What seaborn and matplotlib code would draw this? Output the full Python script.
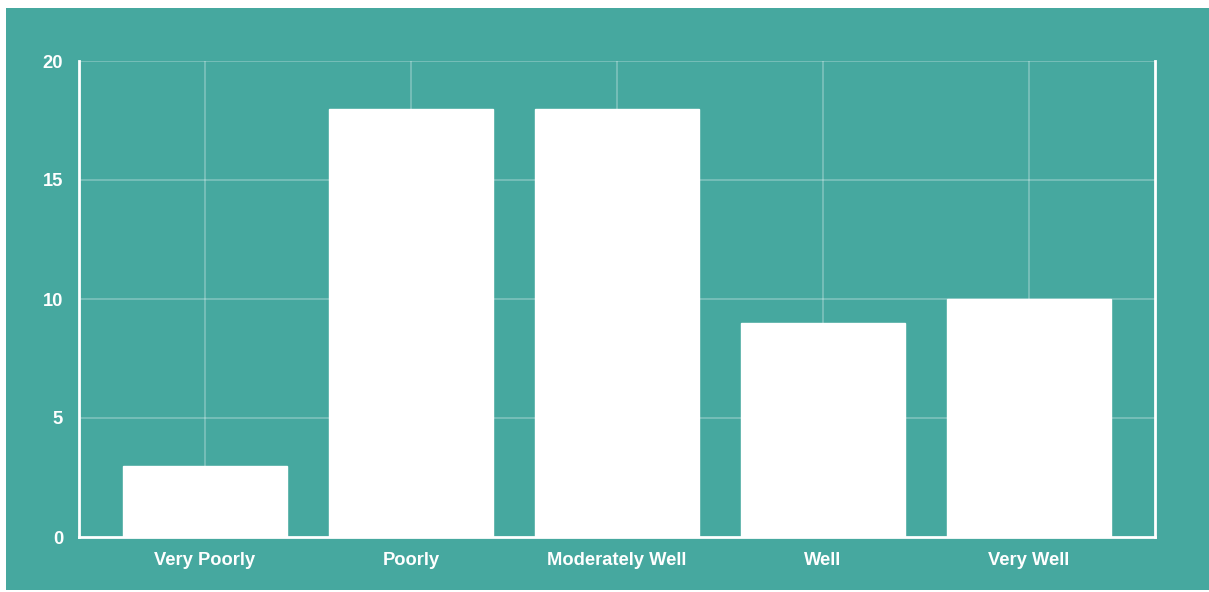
import matplotlib
matplotlib.use("Agg")
import matplotlib.pyplot as plt
from matplotlib.patches import Rectangle
import seaborn as sns
import pandas as pd

categories = ["Very Poorly", "Poorly", "Moderately Well", "Well", "Very Well"]
counts = [3, 18, 18, 9, 10]
y_ticks = [0, 5, 10, 15, 20]

TEAL = "#46a89f"

sns.set_style("white")
plt.rcParams["font.family"] = ["Liberation Sans", "DejaVu Sans"]

fig = plt.figure(figsize=(12.09, 5.92), dpi=100, facecolor="white")
W, H = 1209, 592
# teal card behind the chart
card = Rectangle((6 / W, 2 / H), (W - 6) / W, (H - 10) / H,
                 transform=fig.transFigure, facecolor=TEAL,
                 edgecolor="none", zorder=-10)
fig.add_artist(card)

ax = fig.add_axes([79 / W, (H - 537) / H, (1155 - 79) / W, (537 - 61) / H])
ax.set_facecolor("none")
ax.set_zorder(1)

df = pd.DataFrame({"category": categories, "count": counts})
sns.barplot(data=df, x="category", y="count", order=categories,
            color="white", saturation=1, width=0.8, ax=ax, zorder=3)

ax.set_xlim(-0.612, 4.612)
ax.set_ylim(0, 20)
ax.set_yticks(y_ticks)
ax.set_xlabel("")
ax.set_ylabel("")

grid_kw = dict(color="white", alpha=0.3, linewidth=1.2, zorder=1)
for y in y_ticks[1:]:
    ax.axhline(y, **grid_kw)
for i in range(len(categories)):
    ax.axvline(i, **grid_kw)

for side in ["left", "bottom", "right"]:
    ax.spines[side].set_visible(True)
    ax.spines[side].set_color("white")
    ax.spines[side].set_linewidth(2)
    ax.spines[side].set_zorder(4)
ax.spines["top"].set_visible(False)

ax.tick_params(axis="both", length=0, colors="white", labelsize=13.2)
ax.tick_params(axis="y", pad=11.5)
ax.tick_params(axis="x", pad=10.5)
for lbl in ax.get_xticklabels() + ax.get_yticklabels():
    lbl.set_fontweight("bold")
    lbl.set_color("white")

fig.savefig("out.png", dpi=100, facecolor="white")
